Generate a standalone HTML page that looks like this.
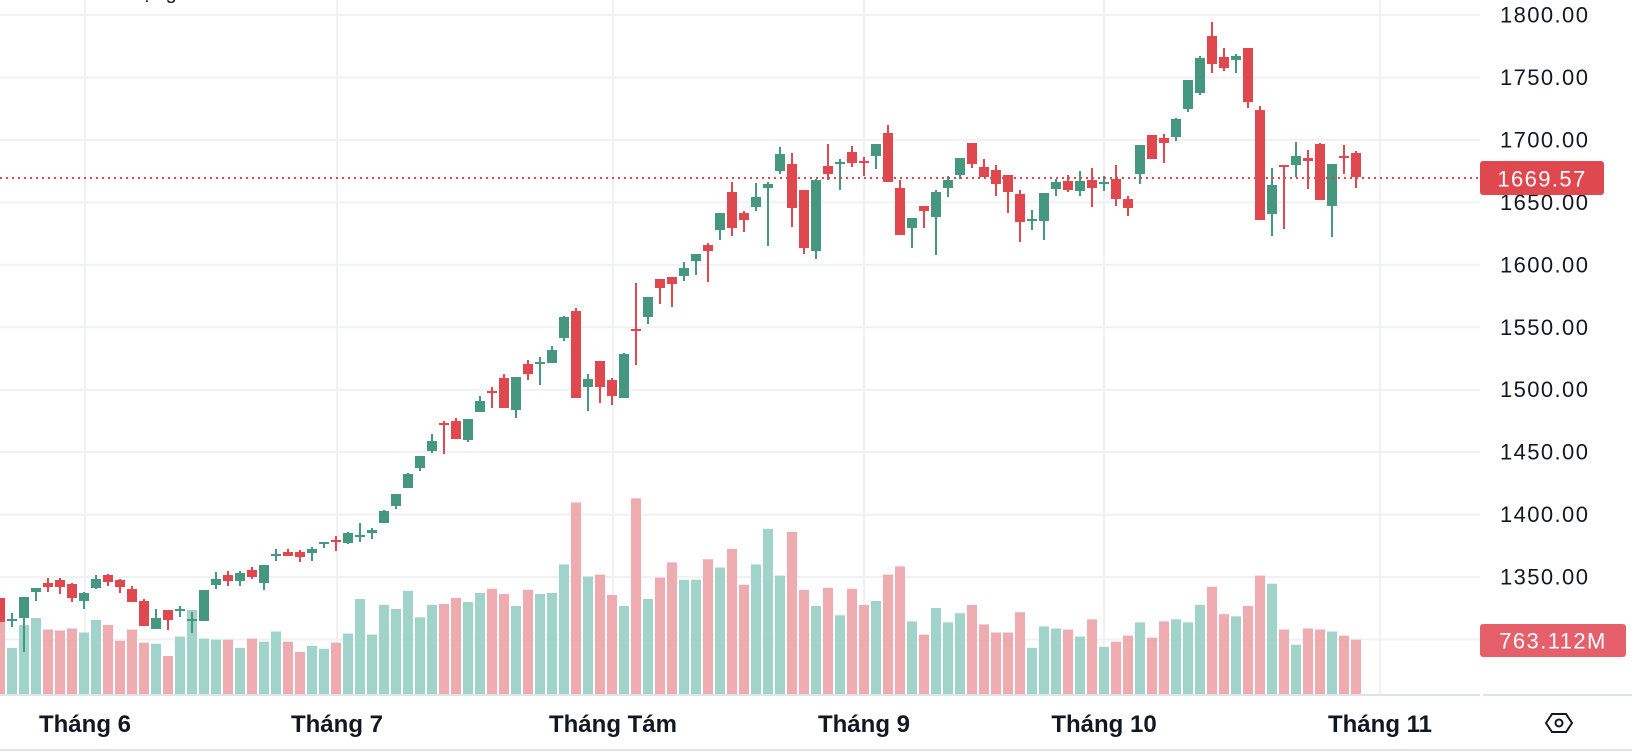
<!DOCTYPE html>
<html><head><meta charset="utf-8">
<style>
html,body{margin:0;padding:0;background:#fff;}
body{width:1632px;height:756px;overflow:hidden;position:relative;font-family:"Liberation Sans",sans-serif;}
svg{position:absolute;left:0;top:0;}
</style></head>
<body>
<svg id="c" width="1632" height="756" viewBox="0 0 1632 756" xmlns="http://www.w3.org/2000/svg">
<g id="grid" stroke="#f0f1f3" stroke-width="2"></g>
<g id="vol"></g>
<g id="cnd"></g>
<text x="78" y="-1" font-family="Liberation Sans, sans-serif" font-size="20" fill="#131722">Khối lượng</text>
<line x1="0" y1="178" x2="1480" y2="178" stroke="#e04850" stroke-width="2" stroke-dasharray="2,4"/>
<line x1="0" y1="695" x2="1480" y2="695" stroke="#e0e3eb" stroke-width="2"/>
<line x1="1483" y1="695" x2="1632" y2="695" stroke="#e0e3eb" stroke-width="2"/>
<line x1="0" y1="750" x2="1632" y2="750" stroke="#e0e3eb" stroke-width="2"/>
<g id="plab" font-family="Liberation Sans, sans-serif" font-size="22" fill="#131722" letter-spacing="1.4"></g>
<rect x="1480" y="161" width="124" height="34" rx="3" fill="#e04850"/>
<text x="1542" y="179" text-anchor="middle" dominant-baseline="central" font-family="Liberation Sans, sans-serif" font-size="22" fill="#fff" letter-spacing="1.4">1669.57</text>
<rect x="1480" y="624" width="146" height="33" rx="3" fill="#e5606a"/>
<text x="1553" y="641" text-anchor="middle" dominant-baseline="central" font-family="Liberation Sans, sans-serif" font-size="22" fill="#fff" letter-spacing="1.4">763.112M</text>
<g font-family="Liberation Sans, sans-serif" font-size="24" font-weight="bold" fill="#131722" text-anchor="middle">
<text x="85" y="732">Tháng 6</text>
<text x="337" y="732">Tháng 7</text>
<text x="613" y="732">Tháng Tám</text>
<text x="864" y="732">Tháng 9</text>
<text x="1104" y="732">Tháng 10</text>
<text x="1380" y="732">Tháng 11</text>
</g>
<polygon points="1546,723 1552,714 1566,714 1572,723 1566,732 1552,732" fill="none" stroke="#131722" stroke-width="2"/>
<circle cx="1559" cy="723" r="3.5" fill="none" stroke="#131722" stroke-width="2"/>
</svg>
<script>
var NS="http://www.w3.org/2000/svg";
function el(p,t,a){var e=document.createElementNS(NS,t);for(var k in a)e.setAttribute(k,a[k]);p.appendChild(e);return e;}
var grid=document.getElementById('grid');
for(var k=0;k<11;k++){var y=15+k*62.45;el(grid,'line',{x1:0,y1:y,x2:1480,y2:y});}
[85,337,613,864,1104,1380].forEach(function(x){el(grid,'line',{x1:x,y1:0,x2:x,y2:694});});
var pl=document.getElementById('plab');
for(var k=0;k<10;k++){var y=15+k*62.45;var t=el(pl,'text',{x:1500,y:y,'dominant-baseline':'central'});t.textContent=(1800-50*k)+'.00';}
var D=[
["R",598,622,598,622],["G",619,620,613,627],["G",597,618,597,652],["G",588,592,588,601],["R",583,587,578,592],["R",580,587,578,594],["R",584,598,583,602],["G",593,601,592,609],["G",579,588,575,589],["R",575,582,574,586],
["R",580,587,579,593],["R",589,602,586,602],["R",601,626,599,626],["G",618,629,609,629],["R",610,620,610,630],["G",609,611,606,617],["G",619,621,612,633],["G",590,621,590,621],["G",579,585,572,589],["R",575,581,571,586],
["G",573,581,571,586],["R",570,577,567,579],["G",565,583,565,590],["G",554,556,549,561],["R",552,556,549,556],["R",552,557,550,562],["G",549,553,547,561],["G",542,544,542,548],["R",540,542,536,551],["G",533,543,532,544],
["G",535,537,523,542],["G",530,533,528,539],["G",511,523,510,523],["G",494,506,494,509],["G",474,488,473,488],["G",456,468,456,471],["G",441,451,434,453],["R",423,425,421,454],["R",421,439,418,439],["G",419,440,419,442],
["G",401,412,396,412],["R",391,393,387,408],["R",378,408,374,408],["G",377,410,377,418],["R",364,374,360,380],["G",362,364,357,385],["G",350,363,346,363],["G",317,338,316,341],["R",311,398,308,398],["G",379,387,374,411],
["R",361,387,361,403],["R",380,396,378,405],["G",354,398,353,398],["R",329,331,283,365],["G",297,317,297,324],["R",279,288,279,304],["R",277,284,277,307],["G",268,276,262,281],["G",254,261,254,275],["R",245,251,243,282],
["G",213,230,213,240],["R",192,228,182,236],["R",213,220,211,232],["G",197,207,183,211],["G",184,188,182,246],["G",154,171,147,174],["R",164,208,153,227],["R",190,248,190,254],["G",180,251,179,259],["R",166,174,144,180],
["G",162,164,159,190],["R",152,163,146,167],["R",161,163,157,176],["G",144,156,144,169],["R",133,182,125,182],["R",188,235,180,235],["G",218,228,218,248],["R",206,211,206,228],["G",192,217,190,255],["G",180,188,176,197],
["G",158,175,158,179],["R",143,164,143,168],["R",167,177,159,177],["R",170,184,165,196],["R",175,192,175,213],["R",194,222,190,242],["G",219,221,210,230],["G",193,221,193,240],["G",182,189,179,196],["R",181,190,175,192],
["G",181,191,171,196],["R",180,188,168,207],["G",182,184,176,191],["R",179,199,165,206],["R",199,208,196,216],["G",145,174,145,184],["R",135,159,135,159],["R",138,143,134,163],["G",119,137,118,141],["G",80,109,80,112],
["G",58,93,56,95],["R",36,64,22,73],["R",57,68,48,71],["G",56,60,54,73],["R",48,102,48,108],["R",110,220,106,220],["G",185,214,168,236],["R",165,167,165,229],["G",156,165,142,177],["R",158,161,150,189],
["R",144,200,143,200],["G",164,206,164,237],["R",156,158,145,174],["R",153,177,151,188]];
var V=[614,648,625,618,629.5,630.5,628.5,632.5,620,625,640.7,629.5,642.7,643.7,656,636.6,610,638.6,639.7,639.7,647.8,638.6,641.7,631.5,641.7,651.9,645.8,648.8,642.7,633.6,599,634.6,605,609,590.8,617.3,605,604,598,602,592.9,588.8,594,606,589.8,594,592.9,564.4,502.4,576.6,574.6,595,606,498.3,599,577.6,562.4,579.7,
579.7,559.3,567.5,549,584.7,564.4,528.8,575.6,531.9,589.8,606,587.8,615.3,588.8,605,601,574.6,566.4,621.4,634.6,608,622.4,613.2,605,624.4,632.5,632.5,612.2,647.8,626.4,628.5,629.5,636.6,619.3,646.8,641.7,635.6,622.4,637.6,621.4,619.3,622.4,605,586.8,614.2,616.3,606,575.6,583.7,629.5,644.7,628.5,629.5,631.5,635.6,639.7];
var vg=document.getElementById('vol'),cg=document.getElementById('cnd');
for(var i=0;i<D.length;i++){
  var d=D[i],x=12*i,g=d[0]=="G";
  var vt=V[i];
  el(vg,'rect',{x:x-5,y:vt,width:10,height:694-vt,fill:g?"#a0d4cb":"#eeacb0"});
  var col=g?"#45987f":"#e04850";
  el(cg,'rect',{x:x-1,y:d[3],width:2,height:Math.max(2,d[4]-d[3]),fill:col});
  el(cg,'rect',{x:x-5,y:d[1],width:10,height:Math.max(2,d[2]-d[1]),fill:col});
}
</script>
</body></html>
